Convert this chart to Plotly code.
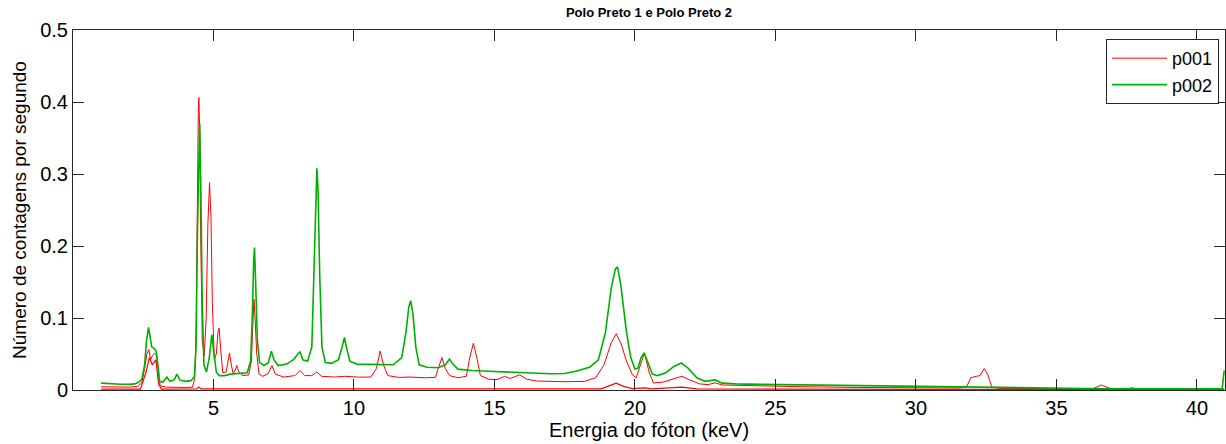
import plotly.graph_objects as go

# Spectrum p001 (red) - main trace
p001_energy = [
    1.00, 1.50, 2.00, 2.30, 2.45, 2.55, 2.63, 2.70, 2.76, 2.83, 2.90, 2.98, 3.04, 3.10,
    3.30, 3.60, 4.00, 4.25, 4.33, 4.38, 4.42, 4.46, 4.48, 4.51, 4.55, 4.60, 4.67, 4.74,
    4.80, 4.86, 4.91, 4.96, 5.03, 5.10, 5.16, 5.20, 5.25, 5.33, 5.45, 5.52, 5.57, 5.62,
    5.70, 5.78, 5.83, 5.90, 6.05, 6.25, 6.35, 6.40, 6.44, 6.48, 6.54, 6.62, 6.75, 6.95,
    7.08, 7.20, 7.50, 7.90, 8.08, 8.25, 8.50, 8.68, 8.85, 9.30, 9.66, 10.20, 10.60, 10.80,
    10.93, 11.05, 11.20, 11.60, 12.00, 12.50, 12.90, 13.00, 13.13, 13.25, 13.40, 13.70,
    14.00, 14.12, 14.25, 14.37, 14.50, 14.80, 15.10, 15.36, 15.55, 15.90, 16.15, 16.50,
    17.50, 18.20, 18.60, 18.90, 19.15, 19.33, 19.50, 19.70, 19.90, 20.04, 20.20, 20.34,
    20.50, 20.66, 21.00, 21.40, 21.67, 21.95, 22.30, 22.60, 22.85, 23.10, 24.00, 26.00,
    28.00, 30.00, 31.50, 31.80, 31.95, 32.15, 32.28, 32.43, 32.55, 32.70, 33.00, 35.00,
    36.30, 36.60, 36.90, 37.50, 37.70, 37.90, 40.97,
]
p001_counts = [
    0.0045, 0.0040, 0.0040, 0.0050, 0.0100, 0.0300, 0.0500, 0.0560, 0.0420, 0.0480, 0.0510, 0.0480, 0.0250, 0.0060,
    0.0040, 0.0035, 0.0035, 0.0040, 0.0150, 0.0800, 0.2600, 0.3900, 0.4060, 0.3600, 0.2000, 0.0700, 0.0470, 0.1000,
    0.2300, 0.2880, 0.2400, 0.1200, 0.0420, 0.0500, 0.0800, 0.0860, 0.0600, 0.0240, 0.0250, 0.0420, 0.0515, 0.0380,
    0.0230, 0.0280, 0.0340, 0.0250, 0.0200, 0.0210, 0.0400, 0.0900, 0.1260, 0.1000, 0.0500, 0.0220, 0.0190, 0.0230,
    0.0340, 0.0220, 0.0180, 0.0200, 0.0270, 0.0200, 0.0200, 0.0250, 0.0190, 0.0180, 0.0190, 0.0178, 0.0180, 0.0300,
    0.0540, 0.0350, 0.0200, 0.0175, 0.0180, 0.0170, 0.0175, 0.0300, 0.0450, 0.0300, 0.0200, 0.0170,
    0.0190, 0.0450, 0.0650, 0.0450, 0.0200, 0.0150, 0.0145, 0.0190, 0.0160, 0.0210, 0.0150, 0.0125,
    0.0115, 0.0120, 0.0170, 0.0350, 0.0650, 0.0780, 0.0650, 0.0400, 0.0220, 0.0167, 0.0350, 0.0515,
    0.0250, 0.0097, 0.0110, 0.0160, 0.0190, 0.0140, 0.0085, 0.0074, 0.0100, 0.0070, 0.0060, 0.0045,
    0.0035, 0.0028, 0.0028, 0.0040, 0.0170, 0.0190, 0.0200, 0.0297, 0.0220, 0.0040, 0.0022, 0.0018,
    0.0018, 0.0070, 0.0022, 0.0018, 0.0030, 0.0015, 0.0010,
]

# second (low) p001 curve sitting near zero
p001_low_energy = [1.00, 2.40, 2.60, 2.72, 2.82, 2.95, 3.05, 3.15, 4.40, 4.48, 4.56, 10.00,
                   18.80, 19.10, 19.33, 19.60, 19.90, 20.34, 20.60, 21.67, 22.20, 30.00, 40.97]
p001_low_counts = [0.0012, 0.0012, 0.0250, 0.0450, 0.0350, 0.0420, 0.0080, 0.0012, 0.0015, 0.0040, 0.0015, 0.0015,
                   0.0015, 0.0060, 0.0095, 0.0050, 0.0020, 0.0030, 0.0015, 0.0040, 0.0015, 0.0010, 0.0008]

# Spectrum p002 (green)
p002_energy = [
    1.00, 1.30, 1.70, 2.00, 2.20, 2.35, 2.45, 2.55, 2.62, 2.69, 2.74, 2.80, 2.88, 2.96,
    3.02, 3.08, 3.20, 3.34, 3.45, 3.60, 3.70, 3.80, 4.00, 4.20, 4.32, 4.38, 4.43, 4.48,
    4.51, 4.55, 4.60, 4.66, 4.75, 4.85, 4.94, 5.02, 5.10, 5.20, 5.40, 5.60, 5.80, 6.00,
    6.20, 6.32, 6.38, 6.43, 6.46, 6.50, 6.56, 6.64, 6.80, 6.95, 7.06, 7.15, 7.30, 7.60,
    7.85, 8.00, 8.08, 8.18, 8.35, 8.50, 8.58, 8.64, 8.68, 8.72, 8.78, 8.86, 8.98, 9.20,
    9.45, 9.58, 9.66, 9.74, 9.85, 10.10, 10.50, 11.00, 11.40, 11.70, 11.85, 11.95, 12.02,
    12.10, 12.20, 12.32, 12.60, 13.00, 13.25, 13.40, 13.52, 13.70, 14.20, 14.80, 15.50,
    16.20, 17.00, 17.50, 18.00, 18.40, 18.70, 18.95, 19.15, 19.30, 19.38, 19.50, 19.70,
    19.85, 20.00, 20.10, 20.22, 20.33, 20.45, 20.62, 20.80, 21.10, 21.40, 21.65, 21.90,
    22.20, 22.50, 22.85, 23.10, 23.60, 24.50, 26.00, 28.00, 30.00, 32.00, 34.00, 36.00,
    38.00, 40.00, 40.90, 40.97,
]
p002_counts = [
    0.0095, 0.0085, 0.0080, 0.0078, 0.0085, 0.0110, 0.0150, 0.0350, 0.0700, 0.0870, 0.0720, 0.0600, 0.0580, 0.0540,
    0.0350, 0.0120, 0.0110, 0.0180, 0.0120, 0.0140, 0.0220, 0.0140, 0.0120, 0.0130, 0.0180, 0.0600, 0.2200, 0.3400,
    0.3700, 0.2800, 0.1200, 0.0350, 0.0250, 0.0450, 0.0770, 0.0500, 0.0250, 0.0200, 0.0200, 0.0220, 0.0230, 0.0230,
    0.0240, 0.0400, 0.1000, 0.1800, 0.1980, 0.1500, 0.0700, 0.0380, 0.0340, 0.0380, 0.0540, 0.0420, 0.0340, 0.0360,
    0.0420, 0.0500, 0.0530, 0.0420, 0.0400, 0.0600, 0.1800, 0.2800, 0.3080, 0.2800, 0.1600, 0.0600, 0.0380, 0.0370,
    0.0420, 0.0600, 0.0730, 0.0580, 0.0400, 0.0360, 0.0355, 0.0350, 0.0350, 0.0450, 0.0800, 0.1150, 0.1240,
    0.1050, 0.0600, 0.0350, 0.0315, 0.0310, 0.0350, 0.0430, 0.0360, 0.0290, 0.0270, 0.0260, 0.0250,
    0.0240, 0.0225, 0.0230, 0.0270, 0.0320, 0.0420, 0.0800, 0.1400, 0.1680, 0.1710, 0.1450, 0.0800,
    0.0450, 0.0290, 0.0300, 0.0450, 0.0515, 0.0380, 0.0220, 0.0200, 0.0240, 0.0330, 0.0375, 0.0300,
    0.0170, 0.0120, 0.0140, 0.0095, 0.0085, 0.0078, 0.0070, 0.0058, 0.0045, 0.0035, 0.0027, 0.0021,
    0.0017, 0.0015, 0.0015, 0.0270,
]

x_ticks = [5, 10, 15, 20, 25, 30, 35, 40]
y_ticks = [0, 0.1, 0.2, 0.3, 0.4, 0.5]

RED = "#ff0000"
GREEN = "#00b000"
AXIS = "#262626"
FONT = "Liberation Sans, Arial, sans-serif"

fig = go.Figure()

fig.add_trace(go.Scatter(x=p001_low_energy, y=p001_low_counts, mode="lines",
                         line=dict(color=RED, width=1.2), showlegend=False,
                         legendgroup="p001", hoverinfo="skip"))
fig.add_trace(go.Scatter(x=p001_energy, y=p001_counts, mode="lines", name="p001",
                         line=dict(color=RED, width=1), legendgroup="p001"))
fig.add_trace(go.Scatter(x=p002_energy, y=p002_counts, mode="lines", name="p002",
                         line=dict(color=GREEN, width=1.6)))

axis_common = dict(
    showline=True, linecolor=AXIS, linewidth=1, mirror="ticks",
    ticks="inside", ticklen=11, tickcolor=AXIS, tickwidth=1,
    showgrid=False, zeroline=False, automargin=False,
    tickfont=dict(family=FONT, size=20, color="#000"),
)

fig.update_layout(
    width=1226, height=444,
    margin=dict(l=73, r=1, t=30, b=54),
    paper_bgcolor="white", plot_bgcolor="white",
    font=dict(family=FONT, color="#000"),
    title=dict(text="<b>Polo Preto 1 e Polo Preto 2</b>", x=649 / 1226, xanchor="center",
               y=1 - 12 / 444, yanchor="middle", font=dict(family=FONT, size=13, color="#000")),
    xaxis=dict(axis_common, range=[0, 41], tickvals=x_ticks,
               title=dict(text="Energia do fóton (keV)", font=dict(family=FONT, size=20), standoff=4)),
    yaxis=dict(axis_common, range=[0, 0.5], tickvals=y_ticks,
               title=dict(text="Número de contagens por segundo", font=dict(family=FONT, size=19), standoff=8)),
    legend=dict(x=0.9948, y=0.975, xanchor="right", yanchor="top",
                bordercolor=AXIS, borderwidth=1, bgcolor="white", itemwidth=55,
                font=dict(family=FONT, size=18), tracegroupgap=0),
)

# drop the default page margin so the figure sits at the window's top-left corner
fig.write_html("out.html", config={"displayModeBar": False},
               post_script="document.body.style.margin='0';")
